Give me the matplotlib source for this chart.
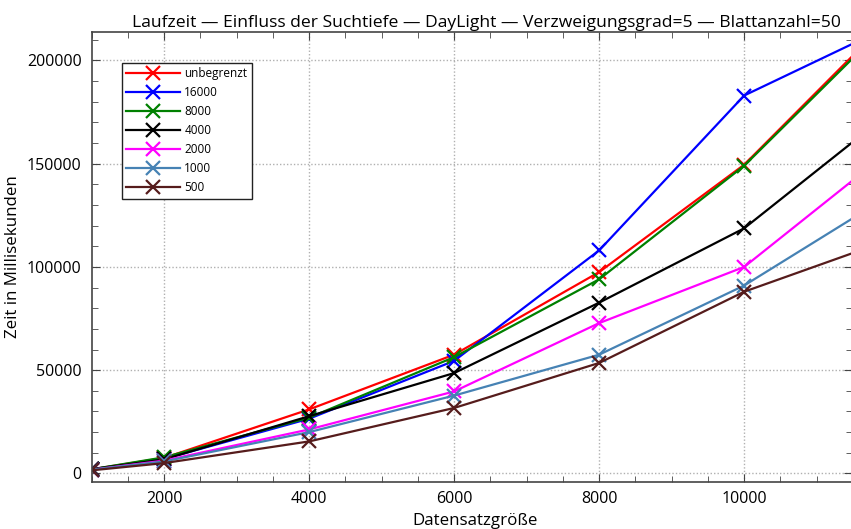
import matplotlib
matplotlib.use('Agg')
import matplotlib.pyplot as plt
from matplotlib.ticker import MultipleLocator

plt.rcParams['font.family'] = ['Open Sans', 'DejaVu Sans']

# Datensatzgroesse
SIZES = [1000, 2000, 4000, 6000, 8000, 10000, 12000]

# Laufzeiten in ms, je Suchtiefe
UNBEGRENZT = [2000, 7500, 31000, 57500, 97500, 149500, 220000]
D16000 = [2000, 7000, 26500, 54500, 108000, 183000, 216500]
D8000 = [2000, 7800, 27000, 56300, 94000, 149000, 218500]
D4000 = [2000, 6800, 27700, 48600, 82700, 118700, 174500]
D2000 = [1800, 6200, 21300, 39700, 72800, 100000, 156000]
D1000 = [1800, 5800, 20000, 37700, 57500, 91000, 134500]
D500 = [1500, 5000, 15500, 31700, 53500, 88000, 113000]

LABELS = ["unbegrenzt", "16000", "8000", "4000", "2000", "1000", "500"]
COLORS = ["#ff0000", "#0000ff", "#008000", "#000000", "#ff00ff", "#4682b4", "#561c1c"]
SERIES = [UNBEGRENZT, D16000, D8000, D4000, D2000, D1000, D500]

fig = plt.figure(figsize=(8.51, 5.29), dpi=100)
ax = fig.add_axes([91.5 / 851, 1 - 481.7 / 529, 760 / 851, 450.2 / 529])

for values, label, color in zip(SERIES, LABELS, COLORS):
	ax.plot(SIZES, values, color=color, label=label, linewidth=1.6,
		marker="x", markersize=9.5, markeredgewidth=1.6)

ax.set_xlim(1000, 11480)
ax.set_ylim(-4000, 214000)
ax.xaxis.set_major_locator(MultipleLocator(2000))
ax.xaxis.set_minor_locator(MultipleLocator(500))
ax.yaxis.set_major_locator(MultipleLocator(50000))
ax.yaxis.set_minor_locator(MultipleLocator(10000))
ax.tick_params(which="both", direction="in", top=True, right=True, color="#444444", labelsize=11.5)
ax.tick_params(which="major", length=6, pad=7)
ax.tick_params(which="minor", length=4)
ax.grid(which="major", color="#b0b0b0", linestyle=(0, (1, 1.5)), linewidth=1)
for spine in ax.spines.values():
	spine.set_color("#444444")
	spine.set_linewidth(1.2)

# the original plot area is cut off on the right, so texts sit a bit right of centre
ax.set_title("Laufzeit — Einfluss der Suchtiefe — DayLight — Verzweigungsgrad=5 — Blattanzahl=50",
	fontsize=12.6, pad=3, x=0.52)
ax.set_xlabel("Datensatzgröße", fontsize=12.2, labelpad=4, x=0.505)
ax.set_ylabel("Zeit in Millisekunden", fontsize=12.2, labelpad=4)

leg = ax.legend(loc="upper left", bbox_to_anchor=(0.0398, 0.9307), borderaxespad=0,
	fontsize=8.5, handlelength=4.5, handletextpad=0.4, labelspacing=0.5,
	fancybox=False, framealpha=1, edgecolor="#222222", borderpad=0.4)
leg.get_frame().set_linewidth(1)

plt.savefig("out.png", dpi=100)
